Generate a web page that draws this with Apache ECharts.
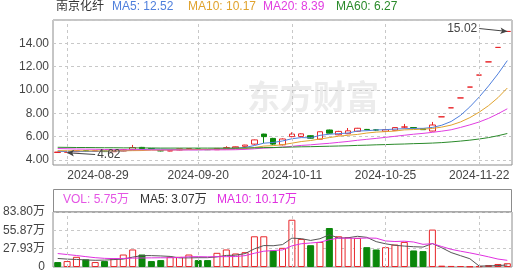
<!DOCTYPE html>
<html><head><meta charset="utf-8">
<script src="https://cdn.jsdelivr.net/npm/echarts@6/dist/echarts.min.js"></script>
<style>html,body{margin:0;padding:0;background:#fff}#c{width:518px;height:273px}</style>
</head><body><div id="c"></div>
<script>
const dates = ['2024-08-28','2024-08-29','2024-08-30','2024-09-02','2024-09-03','2024-09-04','2024-09-05','2024-09-06','2024-09-09','2024-09-10','2024-09-11','2024-09-12','2024-09-13','2024-09-18','2024-09-19','2024-09-20','2024-09-23','2024-09-24','2024-09-25','2024-09-26','2024-09-27','2024-09-30','2024-10-08','2024-10-09','2024-10-10','2024-10-11','2024-10-14','2024-10-15','2024-10-16','2024-10-17','2024-10-18','2024-10-21','2024-10-22','2024-10-23','2024-10-24','2024-10-25','2024-10-28','2024-10-29','2024-10-30','2024-10-31','2024-11-15','2024-11-18','2024-11-19','2024-11-20','2024-11-21','2024-11-22','2024-11-25','2024-11-26','2024-11-27'];
const opens  = [4.64,4.66,4.71,4.79,4.74,4.77,4.71,4.77,4.88,5.08,4.98,4.80,4.77,4.86,4.90,4.95,4.90,4.88,4.96,5.03,5.17,5.36,6.22,5.85,5.30,6.00,6.02,6.08,5.78,6.57,6.16,6.25,6.46,6.62,6.58,6.46,6.55,6.82,6.78,6.68,6.48,7.70,8.47,9.32,10.25,11.28,12.41,13.65,15.02];
const closes = [4.68,4.70,4.78,4.75,4.78,4.72,4.76,4.88,5.06,4.98,4.95,4.78,4.80,4.95,4.97,4.90,4.88,4.99,5.06,5.13,5.28,5.72,6.00,5.36,5.80,6.22,6.24,5.87,6.42,6.30,6.45,6.50,6.72,6.60,6.57,6.60,6.78,6.83,6.75,6.60,7.00,7.70,8.47,9.32,10.25,11.28,12.41,13.65,15.02];
const lows   = [4.63,4.62,4.69,4.73,4.72,4.70,4.69,4.75,4.86,4.95,4.92,4.74,4.75,4.83,4.88,4.88,4.85,4.86,4.94,5.00,5.14,5.30,5.45,5.30,5.25,5.95,5.98,5.82,5.75,6.25,6.12,6.22,6.42,6.55,6.48,6.43,6.52,6.72,6.70,6.58,6.45,7.70,8.47,9.32,10.25,11.28,12.41,13.65,15.02];
const highs  = [4.70,4.72,4.80,4.81,4.80,4.78,4.79,4.92,5.29,5.12,5.02,4.84,4.82,4.97,4.99,4.97,4.92,5.01,5.18,5.15,5.30,5.75,6.25,5.90,5.85,6.37,6.28,6.12,6.45,6.60,6.50,6.74,6.75,6.66,6.64,6.62,6.80,7.09,6.80,6.72,7.26,7.70,8.47,9.32,10.25,11.28,12.41,13.65,15.02];
const prevCloseBeforeFirst = 4.71;
// volume in 万
const volumes = [7.5,9,15.5,11.6,7.5,9,13,19,26.7,19,9,10.5,15.5,15.5,19,10.5,10.5,21.6,26.7,20.6,22.6,46.8,46.8,25.2,29.2,72,42.8,33.2,38.2,59.4,46.8,45.3,44.3,30.2,26.7,30.2,34.2,38.2,25.2,24.2,57,2.0,1.6,1.5,0.9,1.2,2.9,4.6,5.75];
const ma5  = [4.74,4.72,4.72,4.73,4.74,4.75,4.76,4.78,4.84,4.88,4.93,4.93,4.91,4.89,4.89,4.88,4.90,4.94,4.96,4.99,5.07,5.24,5.44,5.50,5.63,5.82,5.92,5.90,6.11,6.21,6.26,6.31,6.48,6.51,6.57,6.60,6.65,6.68,6.71,6.71,6.79,6.98,7.30,7.82,8.55,9.40,10.35,11.38,12.52];
const ma10 = [4.80,4.79,4.79,4.78,4.78,4.77,4.78,4.79,4.80,4.81,4.84,4.84,4.85,4.87,4.89,4.90,4.92,4.93,4.93,4.94,4.97,5.07,5.19,5.23,5.31,5.44,5.58,5.67,5.80,5.92,6.04,6.12,6.19,6.31,6.39,6.43,6.48,6.58,6.61,6.64,6.70,6.82,6.99,7.26,7.63,8.10,8.66,9.34,10.17];
const ma20 = [4.98,4.96,4.94,4.93,4.92,4.90,4.89,4.88,4.88,4.88,4.87,4.86,4.86,4.86,4.86,4.86,4.87,4.87,4.87,4.88,4.91,4.96,5.02,5.05,5.10,5.17,5.25,5.30,5.37,5.43,5.51,5.59,5.69,5.77,5.85,5.94,6.03,6.12,6.21,6.28,6.37,6.47,6.59,6.79,7.01,7.26,7.57,7.96,8.39];
const ma60 = [5.09,5.08,5.07,5.07,5.06,5.05,5.05,5.04,5.04,5.03,5.03,5.02,5.02,5.02,5.02,5.02,5.02,5.02,5.02,5.02,5.03,5.04,5.06,5.07,5.09,5.11,5.13,5.14,5.16,5.18,5.20,5.22,5.25,5.27,5.30,5.32,5.35,5.37,5.40,5.42,5.45,5.49,5.55,5.62,5.70,5.80,5.92,6.08,6.27];
const volMa5  = [13.0,12.0,11.5,10.8,10.22,10.52,11.32,12.02,15.04,17.34,17.34,16.84,16.14,13.90,13.90,14.20,14.20,15.42,17.66,17.98,20.40,27.66,32.70,32.40,34.12,44.00,43.20,40.48,43.08,49.12,44.08,44.58,46.80,45.20,38.66,35.34,33.12,31.90,30.90,30.40,35.76,29.32,22.00,17.26,12.60,1.44,1.62,2.22,3.07];
const volMa10 = [20.5,19.0,17.5,15.8,14.2,13.2,12.8,13.0,13.5,13.78,13.93,14.08,14.08,14.47,15.62,15.77,15.52,15.78,15.78,15.94,17.30,20.93,24.06,25.03,26.05,32.20,35.43,36.59,37.74,41.62,44.04,43.89,43.64,44.14,43.89,39.71,38.85,39.35,38.05,34.53,35.55,31.22,26.95,24.08,21.50,18.60,15.47,12.11,10.17];
const xLabelIdx = [1,15,25,35,45];
const stockName = '南京化纤';
const volAxisMax = 83.80;
const priceMin = 3.57, priceMax = 16.0;

const FONT = '"Liberation Sans", Arial, "Noto Sans CJK SC", sans-serif';
const UP = '#e8262a', DOWN = '#0b870b';
const C5 = '#4f7fdc', C10 = '#e0a32e', C20 = '#e13ee1', C60 = '#2a8a2a';
const last = a => a[a.length - 1];

const candleData = dates.map((d, i) => [opens[i], closes[i], lows[i], highs[i]]);
const volData = volumes.map((v, i) => {
  const pc = i === 0 ? prevCloseBeforeFirst : closes[i - 1];
  const up = closes[i] >= pc;
  return { value: v, itemStyle: up ? { color: '#fff', borderColor: UP, borderWidth: 1 } : { color: DOWN, borderColor: DOWN, borderWidth: 1 } };
});
let maxI = 0, minI = 0;
highs.forEach((h, i) => { if (h > highs[maxI]) maxI = i; });
lows.forEach((l, i) => { if (l < lows[minI]) minI = i; });

const vLines = xLabelIdx.map(i => ({ xAxis: dates[i] }));
const gridLineStyle = { type: [3, 3], color: '#c8c8c8', width: 1 };

const chart = echarts.init(document.getElementById('c'), null, { renderer: 'canvas' });
chart.setOption({
  animation: false,
  textStyle: { fontFamily: FONT },
  grid: [
    { left: 53, right: 6, top: 20, height: 145, show: true, borderColor: '#8c8c8c', borderWidth: 1, backgroundColor: 'transparent' },
    { left: 53, right: 6, top: 212, height: 55, show: true, borderColor: '#8c8c8c', borderWidth: 1, backgroundColor: 'transparent' }
  ],
  xAxis: [
    { type: 'category', data: dates, gridIndex: 0, boundaryGap: true,
      axisLine: { show: false }, axisTick: { show: false }, splitLine: { show: false },
      axisLabel: { interval: (idx) => xLabelIdx.includes(idx), color: '#444', fontSize: 12, margin: 5, fontFamily: FONT,
        formatter: (v, idx) => idx === xLabelIdx[0] ? '{f|' + v + '}' : v,
        rich: { f: { padding: [0, 0, 0, 62], color: '#444', fontSize: 12, fontFamily: FONT } } } },
    { type: 'category', data: dates, gridIndex: 1, boundaryGap: true,
      axisLine: { show: false }, axisTick: { show: false }, axisLabel: { show: false }, splitLine: { show: false } }
  ],
  yAxis: [
    { type: 'value', gridIndex: 0, min: priceMin, max: priceMax, splitNumber: 6, scale: true,
      axisLine: { show: false }, axisTick: { show: false },
      axisLabel: { color: '#444', fontSize: 12, margin: 4, showMinLabel: false, showMaxLabel: false, formatter: v => v.toFixed(2), fontFamily: FONT },
      splitLine: { show: true, lineStyle: gridLineStyle } },
    { type: 'value', gridIndex: 1, min: 0, max: volAxisMax, interval: volAxisMax / 3,
      axisLine: { show: false }, axisTick: { show: false },
      axisLabel: { color: '#444', fontSize: 12, margin: 8, fontFamily: FONT, formatter: v => v < 0.001 ? '0' : v.toFixed(2) + '万' },
      splitLine: { show: true, lineStyle: gridLineStyle } }
  ],
  graphic: [
    { type: 'text', left: 247, top: 80, z: 0, silent: true, style: { text: '东方财富', fill: '#ececec', font: 'bold 33px "Noto Sans CJK SC", sans-serif' } },
    { type: 'text', left: 56, top: 1, style: { text: stockName, fill: '#333', font: '12px ' + FONT } },
    { type: 'text', left: 112, top: 1, style: { text: 'MA5: ' + last(ma5).toFixed(2), fill: C5, font: '12px ' + FONT } },
    { type: 'text', left: 188, top: 1, style: { text: 'MA10: ' + last(ma10).toFixed(2), fill: C10, font: '12px ' + FONT } },
    { type: 'text', left: 263, top: 1, style: { text: 'MA20: ' + last(ma20).toFixed(2), fill: C20, font: '12px ' + FONT } },
    { type: 'text', left: 336, top: 1, style: { text: 'MA60: ' + last(ma60).toFixed(2), fill: C60, font: '12px ' + FONT } },
    { type: 'rect', shape: { x: 53.5, y: 189.5, width: 458, height: 22.5 }, style: { fill: 'transparent', stroke: '#8c8c8c', lineWidth: 1 } },
    { type: 'text', left: 63, top: 194, style: { text: 'VOL: ' + last(volumes).toFixed(2) + '万', fill: '#e455e4', font: '12px ' + FONT } },
    { type: 'text', left: 140, top: 194, style: { text: 'MA5: ' + last(volMa5).toFixed(2) + '万', fill: '#333', font: '12px ' + FONT } },
    { type: 'text', left: 217, top: 194, style: { text: 'MA10: ' + last(volMa10).toFixed(2) + '万', fill: '#e030e0', font: '12px ' + FONT } }
  ],
  series: [
    { type: 'candlestick', xAxisIndex: 0, yAxisIndex: 0, data: candleData, barWidth: 6,
      itemStyle: { color: '#fff', color0: DOWN, borderColor: UP, borderColor0: DOWN, borderColorDoji: UP, borderWidth: 1 },
      markLine: { silent: true, symbol: ['none', 'none'], animation: false,
        lineStyle: gridLineStyle, label: { show: false },
        data: [
          ...vLines,
          [ { coord: [dates[maxI - 3], highs[maxI] + 0.25], symbol: 'none',
              lineStyle: { type: 'solid', color: '#444', width: 1 },
              label: { show: true, position: 'start', distance: 2, formatter: highs[maxI].toFixed(2), color: '#444', fontSize: 12, fontFamily: FONT } },
            { coord: [dates[maxI], highs[maxI]], symbol: 'arrow', symbolSize: [5, 7] } ],
          [ { coord: [dates[minI + 3], lows[minI] - 0.15], symbol: 'none',
              lineStyle: { type: 'solid', color: '#444', width: 1 },
              label: { show: true, position: 'start', distance: 2, formatter: lows[minI].toFixed(2), color: '#444', fontSize: 12, fontFamily: FONT } },
            { coord: [dates[minI], lows[minI]], symbol: 'arrow', symbolSize: [5, 7] } ]
        ] } },
    { type: 'line', name: 'MA5', data: ma5, showSymbol: false, symbol: 'none', lineStyle: { width: 1, color: C5 }, itemStyle: { color: C5 } },
    { type: 'line', name: 'MA10', data: ma10, showSymbol: false, symbol: 'none', lineStyle: { width: 1, color: C10 }, itemStyle: { color: C10 } },
    { type: 'line', name: 'MA20', data: ma20, showSymbol: false, symbol: 'none', lineStyle: { width: 1, color: C20 }, itemStyle: { color: C20 } },
    { type: 'line', name: 'MA60', data: ma60, showSymbol: false, symbol: 'none', lineStyle: { width: 1, color: C60 }, itemStyle: { color: C60 } },
    { type: 'bar', xAxisIndex: 1, yAxisIndex: 1, data: volData, barWidth: 7,
      markLine: { silent: true, symbol: ['none', 'none'], animation: false, lineStyle: gridLineStyle, label: { show: false }, data: vLines } },
    { type: 'line', xAxisIndex: 1, yAxisIndex: 1, data: volMa5, showSymbol: false, symbol: 'none', lineStyle: { width: 1, color: '#555' } },
    { type: 'line', xAxisIndex: 1, yAxisIndex: 1, data: volMa10, showSymbol: false, symbol: 'none', lineStyle: { width: 1, color: '#e030e0' } }
  ]
});
</script></body></html>
